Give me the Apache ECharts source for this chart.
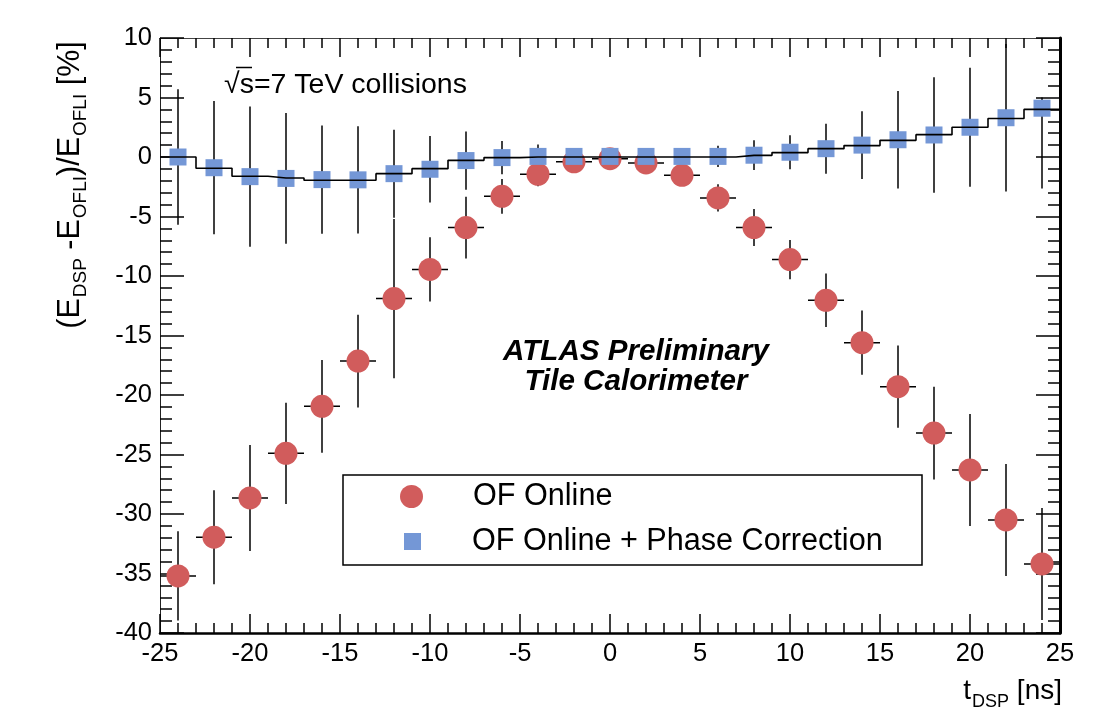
<!DOCTYPE html>
<html>
<head>
<meta charset="utf-8">
<script src="https://cdn.jsdelivr.net/npm/echarts@6/dist/echarts.min.js"></script>
<style>
html,body{margin:0;padding:0;background:#fff;}
#chart{width:1106px;height:708px;}
</style>
</head>
<body>
<div id="chart"></div>
<script>
// ---- data ----
const tValues = [-24,-22,-20,-18,-16,-14,-12,-10,-8,-6,-4,-2,0,2,4,6,8,10,12,14,16,18,20,22,24];
const onlineValues = [-35.2,-31.95,-28.65,-24.9,-20.95,-17.15,-11.9,-9.45,-5.93,-3.3,-1.45,-0.4,-0.14,-0.5,-1.54,-3.44,-5.93,-8.62,-12.04,-15.6,-19.3,-23.2,-26.3,-30.5,-34.2];
const onlineErr = [3.75,3.95,4.45,4.25,3.9,3.9,6.7,2.7,2.6,1.46,1.0,0.5,0.3,0.5,0.8,1.15,1.55,1.65,2.25,2.7,3.45,3.9,4.7,4.7,4.7];
const tHalfWidth = 1;
const phaseValues = [0.0,-0.9,-1.65,-1.8,-1.9,-1.92,-1.4,-1.03,-0.3,-0.05,0.05,0.05,0.05,0.05,0.05,0.05,0.15,0.4,0.7,1.0,1.45,1.85,2.5,3.3,4.1];
const phaseErrUp = [5.7,5.6,5.9,5.5,4.55,4.5,3.7,2.8,2.45,1.4,1.0,0.5,0.3,0.4,0.6,0.9,1.25,1.42,2.1,2.85,4.1,4.85,5.0,6.2,0.9];
const phaseErrDown = [5.7,5.6,5.9,5.5,4.55,4.5,3.7,2.8,2.45,1.4,1.0,0.5,0.3,0.4,0.6,0.9,1.25,1.42,2.1,2.85,4.1,4.85,5.0,6.2,6.75];
const histValues = [0.0,-0.95,-1.62,-1.76,-1.96,-1.96,-1.4,-0.98,-0.28,-0.05,0,0,0,0,0,0,0.14,0.37,0.7,0.96,1.4,1.88,2.5,3.23,4.0];
const xTicks = {min:-25, max:25, interval:5};
const yTicks = {min:-40, max:10, interval:5};

// ---- build ----
const FONT = 'Liberation Sans, Arial, Helvetica, sans-serif';
const chart = echarts.init(document.getElementById('chart'), null, {renderer:'canvas'});

const onlineErrData = tValues.map((t,i)=>[t, onlineValues[i], onlineErr[i], onlineErr[i], tHalfWidth]);
const phaseErrData = tValues.map((t,i)=>[t, phaseValues[i], phaseErrUp[i], phaseErrDown[i], 0]);
const histData = [[xTicks.min, histValues[0]]]
  .concat(tValues.map((t,i)=>[t, histValues[i]]))
  .concat([[xTicks.max, histValues[histValues.length-1]]]);

function errRender(params, api){
  const x = api.value(0), y = api.value(1), up = api.value(2), dn = api.value(3), xe = api.value(4);
  const a = api.coord([x, y+up]), b = api.coord([x, y-dn]);
  const st = {stroke:'#000', lineWidth:1.5};
  const ch = [{type:'line', shape:{x1:a[0],y1:a[1],x2:b[0],y2:b[1]}, style:st}];
  if (xe > 0){
    const l = api.coord([x-xe, y]), r = api.coord([x+xe, y]);
    ch.push({type:'line', shape:{x1:l[0],y1:l[1],x2:r[0],y2:r[1]}, style:st});
  }
  return {type:'group', children:ch};
}

function axisCommon(extra){
  return Object.assign({
    type:'value',
    splitLine:{show:false},
  }, extra);
}

const option = {
  animation:false,
  backgroundColor:'#fff',
  grid:{left:160, top:38, width:900, height:595, outerBoundsMode:'none'},
  xAxis:[
    axisCommon({min:xTicks.min, max:xTicks.max, interval:xTicks.interval, position:'bottom',
      axisLine:{onZero:false, lineStyle:{color:'#000', width:2.5}},
      axisTick:{inside:true, length:19, lineStyle:{color:'#000', width:1.5}},
      minorTick:{show:true, splitNumber:5, length:10, lineStyle:{color:'#000', width:1.5}},
      axisLabel:{fontSize:25.5, color:'#000', fontFamily:FONT, margin:8}}),
    axisCommon({min:xTicks.min, max:xTicks.max, interval:xTicks.interval, position:'top',
      axisLine:{onZero:false, lineStyle:{color:'#444', width:1}},
      axisTick:{inside:true, length:19, lineStyle:{color:'#000', width:1.5}},
      minorTick:{show:true, splitNumber:5, length:10, lineStyle:{color:'#000', width:1.5}},
      axisLabel:{show:false}})
  ],
  yAxis:[
    axisCommon({min:yTicks.min, max:yTicks.max, interval:yTicks.interval, position:'left',
      axisLine:{onZero:false, lineStyle:{color:'#222', width:1}},
      axisTick:{inside:true, length:24, lineStyle:{color:'#000', width:1.5}},
      minorTick:{show:true, splitNumber:5, length:12, lineStyle:{color:'#000', width:1.5}},
      axisLabel:{fontSize:25.5, color:'#000', fontFamily:FONT, margin:8}}),
    axisCommon({min:yTicks.min, max:yTicks.max, interval:yTicks.interval, position:'right',
      axisLine:{onZero:false, lineStyle:{color:'#000', width:3}},
      axisTick:{inside:true, length:24, lineStyle:{color:'#000', width:1.5}},
      minorTick:{show:true, splitNumber:5, length:12, lineStyle:{color:'#000', width:1.5}},
      axisLabel:{show:false}})
  ],
  legend:[
    {data:['OF Online'], left:400, top:481, padding:0, itemWidth:23, itemHeight:23, selectedMode:false,
     textStyle:{fontSize:30.6, lineHeight:30, fontFamily:FONT, color:'#000', padding:[0,0,0,45]}},
    {data:['OF Online + Phase Correction'], left:404, top:526, padding:0, itemWidth:17, itemHeight:17, selectedMode:false,
     textStyle:{fontSize:30.6, lineHeight:30, fontFamily:FONT, color:'#000', padding:[0,0,0,46]}}
  ],
  graphic:[
    {type:'rect', z:1, shape:{x:343, y:475, width:579, height:90}, style:{fill:'#fff', stroke:'#000', lineWidth:1.5}},
    {type:'text', x:224, y:85, z:10, style:{text:'√s=7 TeV collisions', fontSize:28.5, fontFamily:FONT, fill:'#000', align:'left', verticalAlign:'middle'}},
    {type:'line', z:10, shape:{x1:236, y1:67.5, x2:252, y2:67.5}, style:{stroke:'#000', lineWidth:1.5}},
    {type:'text', x:636, y:352, z:10, style:{text:'ATLAS Preliminary', fontSize:29.6, fontWeight:'bold', fontStyle:'italic', fontFamily:FONT, fill:'#000', align:'center', verticalAlign:'middle'}},
    {type:'text', x:636, y:382, z:10, style:{text:'Tile Calorimeter', fontSize:29.6, fontWeight:'bold', fontStyle:'italic', fontFamily:FONT, fill:'#000', align:'center', verticalAlign:'middle'}},
    {type:'text', x:70, y:185, rotation:Math.PI/2, z:10, style:{
      text:'{m|(E}{s|DSP}{m| -E}{s|OFLI}{m|)/E}{s|OFLI}{m| [%]}',
      align:'center', verticalAlign:'middle', fill:'#000',
      rich:{m:{fontSize:30.5, lineHeight:30, fontFamily:FONT, verticalAlign:'top'},
            s:{fontSize:19, lineHeight:19, fontFamily:FONT, verticalAlign:'top', padding:[16,0,0,1]}}}},
    {type:'text', x:1062, y:691, z:10, style:{
      text:'{m|t}{s|DSP}{m| [ns]}',
      align:'right', verticalAlign:'middle', fill:'#000',
      rich:{m:{fontSize:28, lineHeight:28, fontFamily:FONT, verticalAlign:'top'},
            s:{fontSize:18, lineHeight:18, fontFamily:FONT, verticalAlign:'top', padding:[16,0,0,1]}}}}
  ],
  series:[
    {type:'custom', name:'errOnline', renderItem:errRender, data:onlineErrData, encode:{x:0,y:1}, z:2, silent:true},
    {type:'custom', name:'errPhase', renderItem:errRender, data:phaseErrData, encode:{x:0,y:1}, z:2, silent:true},
    {type:'scatter', name:'OF Online', data:tValues.map((t,i)=>[t, onlineValues[i]]), symbol:'circle', symbolSize:23,
      itemStyle:{color:'#d15c5c', opacity:1}, z:3},
    {type:'scatter', name:'OF Online + Phase Correction', data:tValues.map((t,i)=>[t, phaseValues[i]]), symbol:'rect', symbolSize:17,
      itemStyle:{color:'#7497d6', opacity:1}, z:4},
    {type:'line', name:'hist', data:histData, step:'middle', symbol:'none', lineStyle:{color:'#000', width:1.6}, z:5, silent:true}
  ]
};
chart.setOption(option);
</script>
</body>
</html>
